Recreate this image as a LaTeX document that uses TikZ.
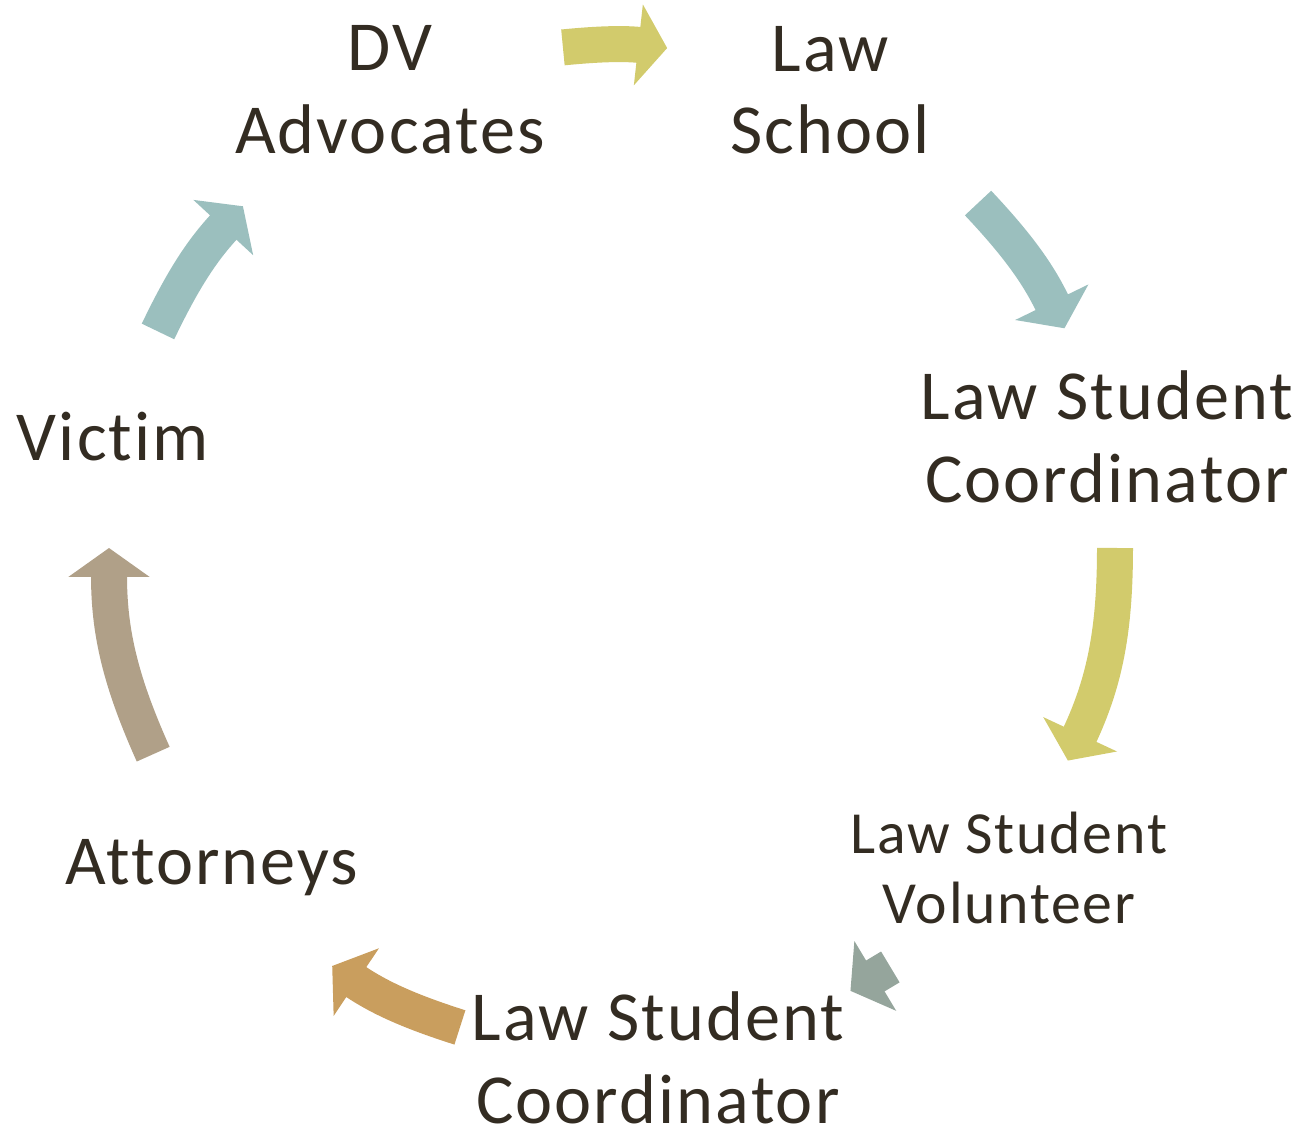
\documentclass[tikz,border=0pt]{standalone}
\usepackage{fontspec}
\setmainfont{Carlito}[Ligatures=NoCommon, LetterSpace=3]
\usepackage{xcolor}
\usepackage{tikz}
\usetikzlibrary{arrows.meta}

\definecolor{inkdark}{HTML}{332C22}
\definecolor{cycyellow}{HTML}{D2CB6C}
\definecolor{cycteal}{HTML}{9BBFBE}
\definecolor{cycgray}{HTML}{95A59C}
\definecolor{cycgold}{HTML}{C99E5E}
\definecolor{cyctaupe}{HTML}{B0A088}

\begin{document}
\begin{tikzpicture}[x=0.02cm, y=0.02cm]
  \tikzset{role/.style={text=inkdark, align=center, inner sep=0pt,
                        font=\fontsize{40}{47}\selectfont}}
  \tikzset{smallrole/.style={role, font=\fontsize{34}{40}\selectfont}}
  \tikzset{cyc/.style={line width=0.72cm,
                       -{Triangle[length=0.58cm, width=1.6cm]}}}
  \useasboundingbox (-612,548) rectangle (689,-580);

  % roles around the cycle
  \node[role] (dv)     at (-222, 458) {DV\\Advocates};
  \node[role] (school) at ( 218, 458) {Law\\School};
  \node[role] (lscA)   at ( 495, 111) {Law Student\\Coordinator};
  \node[smallrole] (vol) at (397, -320) {Law Student\\Volunteer};
  \node[role] (lscB)   at (  46, -510) {Law Student\\Coordinator};
  \node[role] (att)    at (-400, -320) {Attorneys};
  \node[role] (victim) at (-499, 111) {Victim};

  % arrow ends on the ring (tail/tip angles)
  \foreach \n/\a/\b in {1/95.6/83.7, 2/43.3/25.9, 3/0/-25, 4/-56.4/-61.7,
                        5/-107.6/-123.8, 6/-155.8/-180, 7/154.5/137.2}{
    \coordinate (t\n) at (\a:503);
    \coordinate (h\n) at (\b:503);
  }

  % curved block arrows, clockwise
  \draw[cyc, cycyellow] (t1) to[bend left=6]    (h1);
  \draw[cyc, cycteal]   (t2) to[bend left=8.7]  (h2);
  \draw[cyc, cycyellow] (t3) to[bend left=12.5] (h3);
  \draw[cyc, cycgray]   (t4) -- (h4);
  \draw[cyc, cycgold]   (t5) to[bend left=8.1]  (h5);
  \draw[cyc, cyctaupe]  (t6) to[bend left=12.1] (h6);
  \draw[cyc, cycteal]   (t7) to[bend left=8.6]  (h7);
\end{tikzpicture}
\end{document}
